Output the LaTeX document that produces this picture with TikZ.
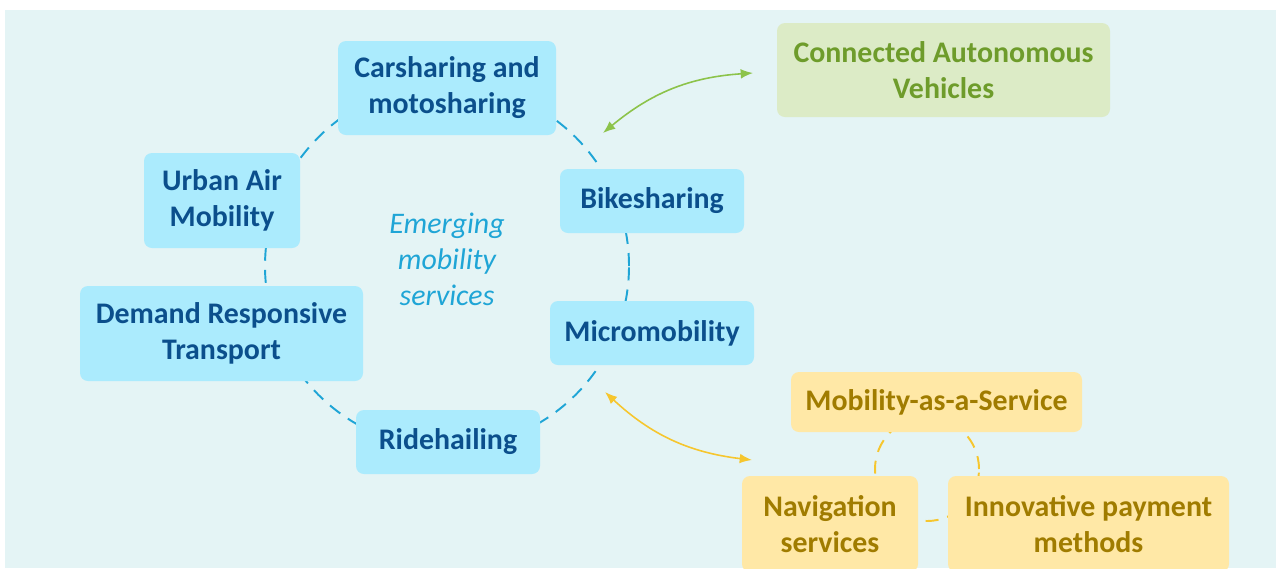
\documentclass[tikz,border=0pt]{standalone}
\usepackage{fontspec}
\setmainfont{Carlito}
\usetikzlibrary{arrows.meta}

\definecolor{panel}{HTML}{E4F4F5}
\definecolor{svcfill}{HTML}{ABEBFD}
\definecolor{svctext}{HTML}{0B4F8C}
\definecolor{ringblue}{HTML}{1FA5D6}
\definecolor{cavfill}{HTML}{DCEBC6}
\definecolor{cavtext}{HTML}{6E9C2B}
\definecolor{cavline}{HTML}{8CC34A}
\definecolor{maasfill}{HTML}{FFE8A6}
\definecolor{maastext}{HTML}{A07C00}
\definecolor{maasline}{HTML}{F6C62E}

\begin{document}
\begin{tikzpicture}[
  every node/.style={font=\bfseries\fontsize{17}{20.5}\selectfont, align=center},
  box/.style={rounded corners=0.16cm, inner sep=0pt},
  service/.style={box, fill=svcfill, text=svctext},
  cav/.style={box, fill=cavfill, text=cavtext},
  maas/.style={box, fill=maasfill, text=maastext},
  ring/.style={line width=1.1pt, dash pattern=on 7.4pt off 5.2pt},
  link/.style={line width=0.9pt, {Latex[length=7pt,width=5.5pt]}-{Latex[length=7pt,width=5.5pt]}}
]
  % panel
  \useasboundingbox (0,0) rectangle (25.52,-11.36);
  \fill[panel] (0.1,-0.2) rectangle (25.52,-11.36);

  % dashed rings (behind the boxes)
  \coordinate (hub) at (8.94,-5.32);
  \coordinate (maashub) at (18.54,-9.38);
  \draw[ring, ringblue] (hub) circle (3.64);
  \draw[ring, maasline] (maashub) circle (1.04);

  % emerging mobility services
  \node[service, minimum width=4.36cm, minimum height=1.88cm] (car) at (8.94,-1.76) {Carsharing and\\motosharing};
  \node[service, minimum width=3.12cm, minimum height=1.9cm] (uam) at (4.44,-4.01) {Urban Air\\Mobility};
  \node[service, minimum width=3.68cm, minimum height=1.28cm] (bike) at (13.04,-4.02) {Bikesharing};
  \node[service, minimum width=4.08cm, minimum height=1.28cm] (micro) at (13.04,-6.66) {Micromobility};
  \node[service, minimum width=5.66cm, minimum height=1.9cm] (drt) at (4.43,-6.67) {Demand Responsive\\Transport};
  \node[service, minimum width=3.68cm, minimum height=1.28cm] (ride) at (8.96,-8.84) {Ridehailing};
  \node[text=ringblue, font=\itshape\fontsize{17}{20.5}\selectfont] (emerging) at (8.94,-5.18) {Emerging\\mobility\\services};

  % connected autonomous vehicles
  \node[cav, minimum width=6.66cm, minimum height=1.88cm] (cav) at (18.87,-1.40) {Connected Autonomous\\Vehicles};
  \coordinate (cavin) at (12.06,-2.66);
  \coordinate (cavout) at (15.06,-1.46);
  \draw[link, cavline] (cavin) to[bend left=18] (cavout);

  % mobility-as-a-service
  \node[maas, minimum width=5.82cm, minimum height=1.2cm] (maas) at (18.73,-8.04) {Mobility-as-a-Service};
  \node[maas, minimum width=3.52cm, minimum height=1.92cm] (nav) at (16.6,-10.48) {Navigation\\services};
  \node[maas, minimum width=5.62cm, minimum height=1.92cm] (pay) at (21.77,-10.48) {Innovative payment\\methods};
  \coordinate (maasin) at (12.1,-7.84);
  \coordinate (maasout) at (15.04,-9.2);
  \draw[link, maasline] (maasin) to[bend right=18] (maasout);
\end{tikzpicture}
\end{document}
